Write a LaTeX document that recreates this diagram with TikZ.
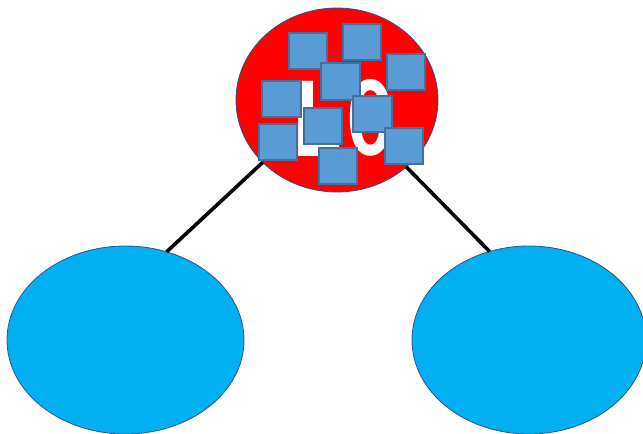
\documentclass[tikz,border=0pt]{standalone}
\usepackage{fontspec}
\setmainfont{Carlito}[BoldFont={Carlito Bold}]
\usetikzlibrary{shapes.geometric}
\definecolor{redc}{HTML}{FF0000}
\definecolor{skyc}{HTML}{00B0F0}
\definecolor{sqfill}{HTML}{5B9BD5}
\definecolor{sqline}{HTML}{41719C}
\definecolor{elline}{HTML}{2F528F}
\begin{document}
\begin{tikzpicture}[x=1pt,y=-1pt,
  blob/.style={ellipse, draw=elline, line width=0.8pt, inner sep=0pt, outer sep=0pt},
  cell/.style={rectangle, draw=sqline, fill=sqfill, line width=1.8pt, minimum width=38.5pt, minimum height=36.5pt, inner sep=0pt},
  link/.style={line width=3.6pt, draw=black},
  glyph/.style={text=white, font=\fontsize{116}{116}\selectfont\bfseries, inner sep=0pt}]
\useasboundingbox (0,0) rectangle (643,434);
\node[blob, fill=redc, minimum width=202pt, minimum height=184pt] (root) at (337,100) {};
\node[blob, fill=skyc, minimum width=237pt, minimum height=188pt] (left) at (125.5,340) {};
\node[blob, fill=skyc, minimum width=234pt, minimum height=188pt] (right) at (529,340) {};
\draw[link] (root.220) -- (left.65.5);
\draw[link] (root.316.3) -- (right.114.4);
\node[glyph, anchor=base west] (labelL) at (292,156) {L};
\node[glyph, anchor=base] (labelO) at (371,155) {\scalebox{0.76}[1]{0}};
\node[cell] (c1) at (308,51) {};
\node[cell] (c2) at (362,42) {};
\node[cell] (c3) at (406,72) {};
\node[cell] (c4) at (340.5,81.5) {};
\node[cell] (c5) at (281.5,99) {};
\node[cell] (c6) at (372.5,114) {};
\node[cell] (c7) at (323,126) {};
\node[cell] (c8) at (278,142) {};
\node[cell] (c9) at (404,146) {};
\node[cell] (c10) at (338,166) {};
\end{tikzpicture}
\end{document}
